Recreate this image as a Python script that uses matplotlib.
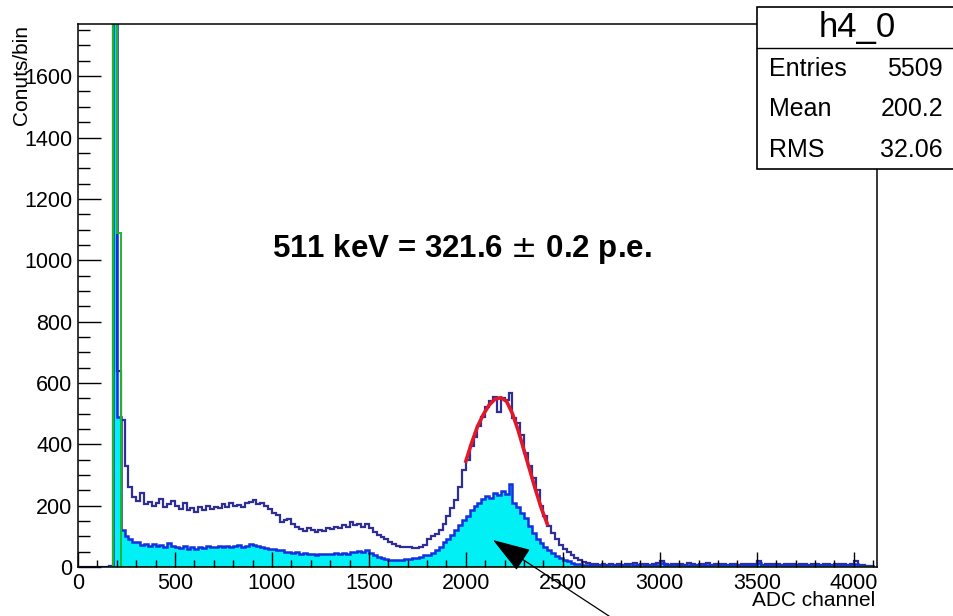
import numpy as np
import matplotlib.pyplot as plt
from matplotlib.patches import Rectangle
from matplotlib.lines import Line2D
from matplotlib.ticker import MultipleLocator

plt.rcParams["font.family"] = ["Liberation Sans", "DejaVu Sans"]

# 20-channel bins, 0 .. 4100
bin_width = 20
edges = np.arange(0, 4101, bin_width)

# all events (dark blue line)
counts_all = [
    0, 0, 0, 0, 0, 0, 0, 0, 4, 3000,
    640, 480, 330, 262, 228, 215, 240, 205, 212, 198,
    210, 222, 196, 205, 214, 200, 190, 208, 185, 192,
    180, 195, 186, 200, 188, 196, 192, 205, 195, 210,
    198, 202, 196, 208, 212, 218, 205, 210, 198, 188,
    176, 168, 148, 152, 158, 140, 130, 125, 118, 128,
    120, 115, 122, 118, 126, 124, 130, 128, 136, 130,
    146, 138, 140, 132, 140, 128, 115, 105, 98, 90,
    82, 76, 70, 66, 64, 64, 62, 63, 66, 72,
    90, 100, 108, 122, 140, 165, 192, 220, 262, 315,
    348, 395, 425, 458, 490, 522, 540, 554, 505, 550,
    545, 568, 485, 468, 430, 370, 330, 290, 250, 200,
    165, 135, 110, 90, 72, 58, 48, 40, 30, 22,
    16, 12, 10, 9, 8, 10, 7, 9, 8, 11,
    8, 10, 9, 12, 8, 9, 11, 8, 10, 12,
    20, 9, 8, 11, 9, 10, 8, 12, 9, 8,
    10, 9, 12, 8, 9, 11, 10, 8, 9, 10,
    8, 11, 9, 10, 9, 20, 8, 10, 9, 11,
    9, 8, 10, 9, 11, 8, 9, 10, 8, 9,
    10, 8, 9, 11, 8, 9, 10, 9, 8, 10,
    18, 8, 6, 4, 3,
]

# selected events (blue line, cyan fill)
counts_sel = [
    0, 0, 0, 0, 0, 0, 0, 0, 2, 2600,
    490, 120, 100, 90, 82, 80, 72, 75, 70, 74,
    68, 72, 65, 78, 70, 66, 62, 70, 60, 64,
    58, 66, 62, 70, 64, 66, 68, 64, 70, 66,
    68, 72, 66, 70, 74, 72, 68, 64, 62, 60,
    58, 55, 54, 50, 48, 46, 48, 44, 45, 42,
    44, 40, 43, 41, 44, 42, 45, 43, 46, 44,
    48, 50, 52, 48, 54, 45, 38, 32, 28, 25,
    23, 22, 23, 24, 25, 26, 28, 30, 33, 38,
    40, 46, 55, 66, 80, 92, 105, 120, 138, 152,
    165, 185, 198, 210, 222, 232, 226, 242, 236, 248,
    238, 272, 210, 195, 175, 160, 135, 112, 92, 78,
    65, 54, 45, 36, 28, 22, 18, 14, 11, 9,
    7, 6, 5, 6, 4, 5, 6, 4, 5, 6,
    5, 6, 4, 7, 5, 4, 6, 5, 6, 7,
    12, 5, 4, 6, 5, 6, 4, 7, 5, 4,
    6, 5, 7, 4, 5, 6, 5, 4, 5, 6,
    4, 6, 5, 6, 5, 12, 4, 6, 5, 6,
    5, 4, 6, 5, 6, 4, 5, 6, 4, 5,
    6, 4, 5, 6, 4, 5, 6, 5, 4, 6,
    10, 4, 3, 2, 2,
]

# pedestal h4_0 (green line), starts at channel 160
ped_edges = np.arange(160, 4101, bin_width)
counts_ped = [0, 3000, 1090] + [0] * (len(ped_edges) - 4)

# photopeak fit (red)
fit_x = [2000, 2030, 2060, 2090, 2120, 2150, 2180, 2210, 2240, 2270, 2300, 2330, 2360, 2390, 2420]
fit_y = [345, 405, 458, 497, 528, 547, 552, 540, 500, 445, 380, 315, 250, 190, 140]

stat_names = ["Entries", "Mean", "RMS"]
stat_values = ["5509", "200.2", "32.06"]

W, H = 954, 616
fig = plt.figure(figsize=(W / 100, H / 100), dpi=100)
ax = fig.add_axes([78 / W, 1 - 567 / H, (877 - 78) / W, (567 - 24) / H])

ax.stairs(counts_sel, edges, fill=True, color="#00f0f5", linewidth=0)
ax.stairs(counts_all, edges, color="#2e2e96", linewidth=1.6)
ax.stairs(counts_sel, edges, color="#1530e0", linewidth=1.8)
ax.stairs(counts_ped, ped_edges, color="#22b822", linewidth=1.4)
ax.plot(fit_x, fit_y, color="#e0182a", linewidth=2.6)

ax.set_xlim(0, 4120)
ax.set_ylim(0, 1770)

ax.xaxis.set_major_locator(MultipleLocator(500))
ax.xaxis.set_minor_locator(MultipleLocator(100))
ax.yaxis.set_major_locator(MultipleLocator(200))
ax.yaxis.set_minor_locator(MultipleLocator(50))
ax.tick_params(axis="both", which="both", direction="in", labelsize=15.5, width=1.0, colors="black")
ax.tick_params(axis="x", which="major", length=10.5, pad=4)
ax.tick_params(axis="x", which="minor", length=5)
ax.tick_params(axis="y", which="major", length=16.5, pad=4)
ax.tick_params(axis="y", which="minor", length=8.5)
for s in ax.spines.values():
    s.set_linewidth(1.1)

fig.text(22 / W, 1 - 25 / H, "Conuts/bin", rotation=90, ha="center", va="top", fontsize=15)
fig.text(875 / W, 1 - 601 / H, "ADC channel", ha="right", va="center", fontsize=15)

fig.text(272 / W, 1 - 257 / H, "511 keV = 321.6 $\\pm$ 0.2 p.e.", ha="left", va="baseline",
         fontsize=22.5, fontweight="bold")

# stats box
x0, x1 = 757 / W, 962 / W
y_top, y_div, y_bot = 1 - 7 / H, 1 - 48 / H, 1 - 169 / H
fig.add_artist(Rectangle((x0, y_bot), x1 - x0, y_top - y_bot, transform=fig.transFigure,
                         facecolor="white", edgecolor="black", linewidth=1.2, zorder=5))
fig.add_artist(Line2D([x0, x1], [y_div, y_div], transform=fig.transFigure, color="black",
                      linewidth=1.0, zorder=6))
fig.text(857 / W, 1 - 28 / H, "h4_0", ha="center", va="center", fontsize=25, zorder=7)
for i, (name, val) in enumerate(zip(stat_names, stat_values)):
    yc = 1 - (69 + 40.5 * i) / H
    fig.text(769 / W, yc, name, ha="left", va="center", fontsize=18, zorder=7)
    fig.text(943 / W, yc, val, ha="right", va="center", fontsize=18, zorder=7)

ax.annotate("", xy=(2140, 88), xycoords="data", xytext=(615 / W, 1 - 620 / H),
            textcoords="figure fraction",
            arrowprops=dict(arrowstyle="-|>,head_length=2.4,head_width=0.8", mutation_scale=10,
                            color="black", lw=0.9, shrinkA=0, shrinkB=0),
            annotation_clip=False)

fig.savefig("out.png", dpi=100)
